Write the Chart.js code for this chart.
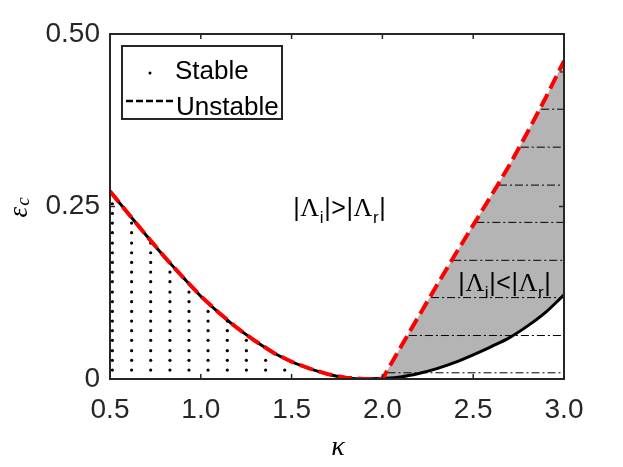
<!DOCTYPE html>
<html>
<head>
<meta charset="utf-8">
<script src="https://cdn.jsdelivr.net/npm/chart.js@4.4.0/dist/chart.umd.min.js"></script>
<style>
  html, body { margin: 0; padding: 0; background: #fff; }
  canvas { display: block; }
</style>
</head>
<body>
<canvas id="epsChart" width="623" height="467"></canvas>
<script>
// values
const stableK = [0.5, 0.6, 0.7, 0.8, 0.9, 1.0, 1.1, 1.2, 1.3, 1.4, 1.5, 1.6, 1.7, 1.8, 1.9, 2.0,
                 2.1, 2.2, 2.3, 2.4, 2.5, 2.6, 2.7, 2.8, 2.9, 3.0];
const stableEps = [0.272, 0.240, 0.208, 0.177, 0.148, 0.120, 0.096, 0.074, 0.055, 0.038, 0.025, 0.015, 0.007, 0.002, 0.000, 0.001,
                   0.003, 0.008, 0.015, 0.024, 0.035, 0.047, 0.060, 0.077, 0.097, 0.122];

const unstableK = [0.5, 0.6, 0.7, 0.8, 0.9, 1.0, 1.1, 1.2, 1.3, 1.4, 1.5, 1.6, 1.7, 1.8, 1.9, 2.0,
                   2.1, 2.2, 2.3, 2.4, 2.5, 2.6, 2.7, 2.8, 2.9, 3.0];
const unstableEps = [0.272, 0.240, 0.208, 0.177, 0.148, 0.120, 0.096, 0.074, 0.055, 0.038, 0.025, 0.015, 0.007, 0.002, 0.000, 0.000,
                     0.046, 0.091, 0.136, 0.180, 0.223, 0.266, 0.310, 0.358, 0.408, 0.461];

// dotted "stable" region
const dotK = [0.513, 0.619, 0.724, 0.830, 0.935, 1.040, 1.146, 1.251, 1.357, 1.462];
const dotRows = [0.013, 0.027, 0.041, 0.056, 0.070, 0.084, 0.098, 0.112, 0.126, 0.141,
                 0.155, 0.169, 0.183, 0.197, 0.212, 0.226, 0.240, 0.254];
const dotCounts = [18, 16, 14, 12, 9, 7, 6, 4, 2, 1];

// dash-dot lines in the shaded region
const hatchEps = [0.009, 0.063, 0.118, 0.172, 0.227, 0.281, 0.336, 0.391, 0.445];
const hatchStart = [2.028, 2.146, 2.268, 2.39, 2.517, 2.642, 2.762, 2.874, 2.977];
const hatchEnd = 3.0;

const xTicks = [0.5, 1.0, 1.5, 2.0, 2.5, 3.0];
const yTicks = [0, 0.25, 0.5];
const yTickLabels = ["0", "0.25", "0.50"];

const legendLabels = ["Stable", "Unstable"];
const regionNotes = [
  { k: 1.509, eps: 0.236, rel: ">" },
  { k: 2.418, eps: 0.128, rel: "<" }
];

const AXIS = "#262626";
const SANS = "'Liberation Sans', Arial, sans-serif";
const SERIF = "'Liberation Serif', 'Times New Roman', serif";

const pts = (xs, ys) => xs.map((x, i) => ({ x, y: ys[i] }));

// dots
const dotPts = [];
dotK.forEach((k, i) => {
  for (let r = 0; r < dotCounts[i]; r++) dotPts.push({ x: k, y: dotRows[r] });
});

// shaded region borders (kappa >= 2)
const upperPts = pts(unstableK, unstableEps).filter(p => p.x >= 2.0);
const lowerPts = pts(stableK, stableEps).filter(p => p.x >= 2.0);

const datasets = [
  { label: "Unstable", data: pts(unstableK, unstableEps), borderColor: "#ff0000", borderWidth: 4,
    borderDash: [14, 6], pointRadius: 0, fill: false, order: 1 },
  { label: "Stable", data: pts(stableK, stableEps), borderColor: "#000", borderWidth: 3,
    pointRadius: 0, fill: false, order: 2, cubicInterpolationMode: "monotone" },
  { label: "dots", data: dotPts, showLine: false, pointRadius: 1.6, pointBackgroundColor: "#000",
    pointBorderWidth: 0, order: 3 },
  { label: "upper", data: upperPts, borderWidth: 0, pointRadius: 0, fill: 4,
    backgroundColor: "#b4b4b4", order: 20 },
  { label: "lower", data: lowerPts, borderWidth: 0, pointRadius: 0, fill: false, order: 21,
    cubicInterpolationMode: "monotone" }
];
hatchEps.forEach((e, i) => {
  datasets.push({ label: "hatch" + i, data: [{ x: hatchStart[i], y: e }, { x: hatchEnd, y: e }],
    borderColor: "#000", borderWidth: 1, borderDash: [8, 3, 2, 3], pointRadius: 0, fill: false, order: 10 });
});

// box, inward ticks, legend, labels
const decorations = {
  id: "decorations",
  afterDraw(chart) {
    const { ctx, chartArea: a, scales: { x, y } } = chart;
    ctx.save();

    // region notes
    regionNotes.forEach(n => {
      let px = x.getPixelForValue(n.k);
      const py = y.getPixelForValue(n.eps);
      const parts = [
        ["|", "25px " + SANS, 0], ["\u039b", "26px " + SERIF, 0], ["i", "17px " + SANS, 7],
        ["|", "25px " + SANS, 0], [n.rel, "25px " + SANS, 0], ["|", "25px " + SANS, 0],
        ["\u039b", "26px " + SERIF, 0], ["r", "17px " + SANS, 7], ["|", "25px " + SANS, 0]
      ];
      ctx.fillStyle = "#000";
      ctx.textBaseline = "alphabetic";
      ctx.textAlign = "left";
      parts.forEach(([t, f, dy]) => {
        ctx.font = f;
        ctx.fillText(t, px, py + dy);
        px += ctx.measureText(t).width + 0.6;
      });
    });

    // frame
    ctx.strokeStyle = AXIS;
    ctx.lineWidth = 2;
    ctx.strokeRect(a.left, a.top, a.right - a.left, a.bottom - a.top);
    ctx.lineWidth = 1.5;
    ctx.beginPath();
    xTicks.forEach(v => {
      const px = x.getPixelForValue(v);
      ctx.moveTo(px, a.bottom); ctx.lineTo(px, a.bottom - 5);
      ctx.moveTo(px, a.top); ctx.lineTo(px, a.top + 5);
    });
    yTicks.forEach(v => {
      const py = y.getPixelForValue(v);
      ctx.moveTo(a.left, py); ctx.lineTo(a.left + 5, py);
      ctx.moveTo(a.right, py); ctx.lineTo(a.right - 5, py);
    });
    ctx.stroke();

    // legend
    const lx = a.left + 12, ly = a.top + 12, lw = 160, lh = 73;
    ctx.fillStyle = "#fff";
    ctx.fillRect(lx, ly, lw, lh);
    ctx.strokeStyle = AXIS;
    ctx.lineWidth = 2;
    ctx.strokeRect(lx, ly, lw, lh);
    ctx.fillStyle = "#000";
    ctx.beginPath();
    ctx.arc(lx + 28, ly + 27, 1.5, 0, Math.PI * 2);
    ctx.fill();
    ctx.strokeStyle = "#000";
    ctx.lineWidth = 2.5;
    ctx.setLineDash([7, 3]);
    ctx.beginPath();
    ctx.moveTo(lx + 4, ly + 55); ctx.lineTo(lx + 51, ly + 55);
    ctx.stroke();
    ctx.setLineDash([]);
    ctx.font = "26px " + SANS;
    ctx.textBaseline = "alphabetic";
    ctx.fillText(legendLabels[0], lx + 53, ly + 33);
    ctx.fillText(legendLabels[1], lx + 54, ly + 69);

    // axis titles
    ctx.fillStyle = "#000";
    ctx.font = "italic 28px " + SERIF;
    ctx.textAlign = "center";
    ctx.fillText("\u03ba", (a.left + a.right) / 2 + 1, a.bottom + 76);

    ctx.translate(27, y.getPixelForValue(0.25) + 11);
    ctx.rotate(-Math.PI / 2);
    ctx.textAlign = "left";
    ctx.font = "italic 27px " + SERIF;
    ctx.fillText("\u03b5", 0, 0);
    const w = ctx.measureText("\u03b5").width;
    ctx.font = "italic 19px " + SERIF;
    ctx.fillText("c", w + 1, 2);
    ctx.restore();
  }
};

new Chart(document.getElementById("epsChart"), {
  type: "line",
  data: { datasets },
  plugins: [decorations],
  options: {
    responsive: false,
    animation: false,
    layout: { padding: { top: 34, right: 59, left: 0, bottom: 0 } },
    plugins: { legend: { display: false }, tooltip: { enabled: false } },
    elements: { line: { tension: 0 } },
    scales: {
      x: {
        type: "linear", min: 0.5, max: 3.0,
        afterBuildTicks: s => { s.ticks = xTicks.map(v => ({ value: v })); },
        afterFit: s => { s.height = 88; },
        grid: { display: false }, border: { display: false },
        ticks: { callback: v => v.toFixed(1), color: AXIS, padding: 6, maxRotation: 0,
                 font: { family: SANS, size: 28 } }
      },
      y: {
        type: "linear", min: 0, max: 0.5,
        afterBuildTicks: s => { s.ticks = yTicks.map(v => ({ value: v })); },
        afterFit: s => { s.width = 110; },
        grid: { display: false }, border: { display: false },
        ticks: { callback: v => yTickLabels[yTicks.indexOf(v)], color: AXIS, padding: 2,
                 font: { family: SANS, size: 28 } }
      }
    }
  }
});
</script>
</body>
</html>
